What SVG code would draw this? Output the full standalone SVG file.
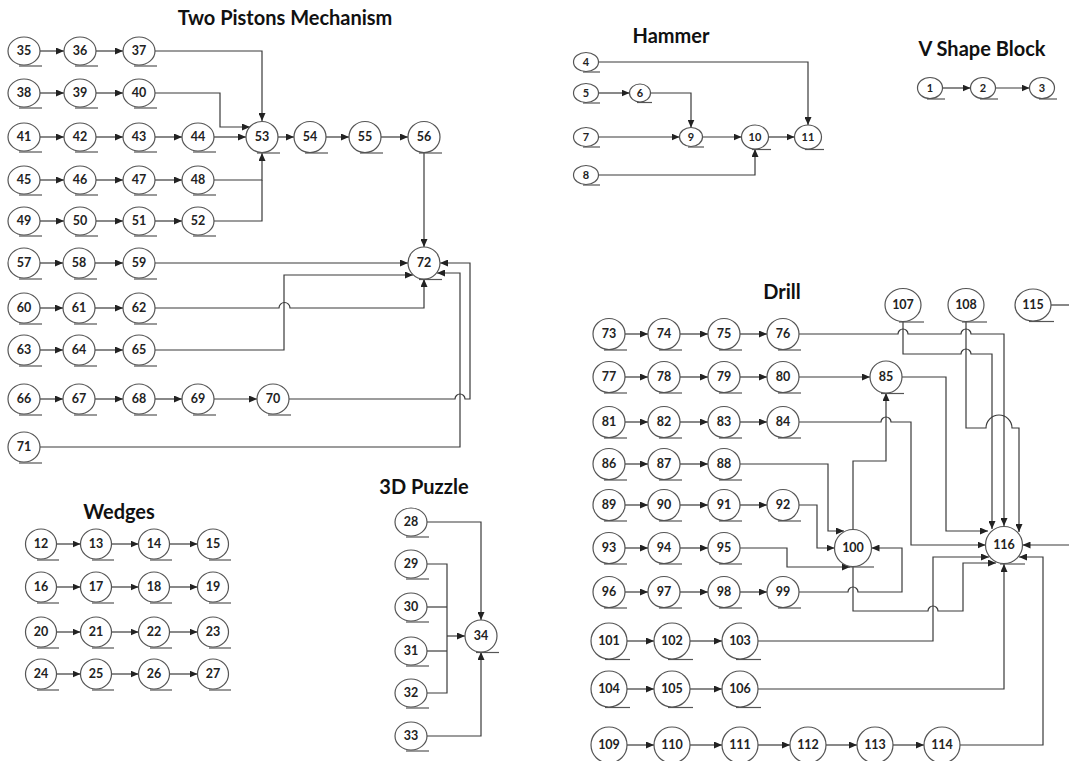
<svg xmlns="http://www.w3.org/2000/svg" width="1069" height="761" viewBox="0 0 1069 761">
<style>
.n ellipse{fill:#fff;stroke:#555;stroke-width:1.2}
.n line{stroke:#555;stroke-width:1.2}
.n text{font-family:Lato,'Liberation Sans',sans-serif;font-weight:bold;font-size:12.5px;text-anchor:middle;fill:#222}
.s text{font-size:11px}
.c path{fill:none;stroke:#3a3a3a;stroke-width:1.2}
.c .a{marker-end:url(#ah)}
.t{font-family:Lato,'Liberation Sans',sans-serif;font-weight:bold;font-size:20px;text-anchor:middle;fill:#111}
</style>
<defs>
<marker id="ah" markerUnits="userSpaceOnUse" markerWidth="8" markerHeight="7" refX="8" refY="3.5" orient="auto"><path d="M0,0 L8,3.5 L0,7 z" fill="#222"/></marker>
</defs>
<rect width="1069" height="761" fill="#fff"/>
<text class="t" x="285" y="25">Two Pistons Mechanism</text>
<text class="t" x="671" y="43">Hammer</text>
<text class="t" x="982" y="56">V Shape Block</text>
<text class="t" x="119" y="519">Wedges</text>
<text class="t" x="424" y="494">3D Puzzle</text>
<text class="t" x="782" y="299">Drill</text>
<g class="c">
<path class="a" d="M40,51H64"/><path class="a" d="M96,51H123"/><path class="a" d="M155,51H262V121"/>
<path class="a" d="M40,93H64"/><path class="a" d="M96,93H123"/><path class="a" d="M155,93H220V127H250"/>
<path class="a" d="M40,137H64"/><path class="a" d="M96,137H123"/><path class="a" d="M155,137H182"/><path class="a" d="M214,137H246"/>
<path class="a" d="M40,180H64"/><path class="a" d="M96,180H123"/><path class="a" d="M155,180H182"/><path class="a" d="M214,180H262V153"/>
<path class="a" d="M40,221H64"/><path class="a" d="M96,221H123"/><path class="a" d="M155,221H182"/><path d="M214,221H262V180"/>
<path class="a" d="M278,137H294"/><path class="a" d="M326,137H349"/><path class="a" d="M381,137H408"/><path class="a" d="M424,152V247"/>
<path class="a" d="M40,263H63"/><path class="a" d="M95,263H123"/><path class="a" d="M155,263H408"/>
<path class="a" d="M40,308H63"/><path class="a" d="M95,308H123"/><path class="a" d="M155,308H279a5.5,5.5 0 0 1 11,0H424V279"/>
<path class="a" d="M40,350H63"/><path class="a" d="M95,350H123"/><path class="a" d="M155,350H284V275H413"/>
<path class="a" d="M40,399H63"/><path class="a" d="M95,399H123"/><path class="a" d="M155,399H182"/><path class="a" d="M214,399H257"/><path class="a" d="M289,399H455a5,5 0 0 1 10,0H470V263H440"/>
<path class="a" d="M40,447H460V273H437"/>
<path class="a" d="M598.5,62H808V125"/>
<path class="a" d="M598.5,93H629.5"/>
<path class="a" d="M650.5,93H691V127.5"/>
<path class="a" d="M598.5,137H679.5"/>
<path class="a" d="M702.5,137H741.5"/>
<path class="a" d="M768.5,137H794.5"/>
<path class="a" d="M598.5,175H755V149"/>
<path class="a" d="M942.5,88H970.5"/><path class="a" d="M995.5,88H1029.5"/>
<path class="a" d="M56.5,544H80.5"/><path class="a" d="M111.5,544H138.5"/><path class="a" d="M169.5,544H197.5"/>
<path class="a" d="M56.5,587H80.5"/><path class="a" d="M111.5,587H138.5"/><path class="a" d="M169.5,587H197.5"/>
<path class="a" d="M56.5,632H80.5"/><path class="a" d="M111.5,632H138.5"/><path class="a" d="M169.5,632H197.5"/>
<path class="a" d="M56.5,674H80.5"/><path class="a" d="M111.5,674H138.5"/><path class="a" d="M169.5,674H197.5"/>
<path class="a" d="M427,522H481V620"/>
<path d="M427,564H447V693H427"/><path d="M427,607H447"/><path d="M427,651H447"/>
<path class="a" d="M447,636H465"/>
<path class="a" d="M427,736H481V652"/>
<path class="a" d="M625,334H648"/><path class="a" d="M680,334H708"/><path class="a" d="M740,334H767"/>
<path class="a" d="M799,334H898a5,5 0 0 1 10,0H961a5,5 0 0 1 10,0H1004V526"/>
<path class="a" d="M903,321.5V354H961a5,5 0 0 1 10,0H992V529"/>
<path class="a" d="M966,321.5V428H986a13,13 0 0 1 26,0H1019V532"/>
<path class="a" d="M625,377H648"/><path class="a" d="M680,377H708"/><path class="a" d="M740,377H767"/><path class="a" d="M799,377H870"/>
<path class="a" d="M902,377H946V531H988"/>
<path class="a" d="M625,422H648"/><path class="a" d="M680,422H708"/><path class="a" d="M740,422H767"/>
<path class="a" d="M799,422H881a5,5 0 0 1 10,0H911V545H985.5"/>
<path d="M1051,305H1080"/>
<path class="a" d="M1080,545H1022.5"/>
<path class="a" d="M625,464H648"/><path class="a" d="M680,464H708"/>
<path class="a" d="M740,464H828V531H844"/>
<path class="a" d="M625,505H648"/><path class="a" d="M680,505H708"/><path class="a" d="M740,505H767"/>
<path class="a" d="M799,505H817V548H834.5"/>
<path class="a" d="M625,548H648"/><path class="a" d="M680,548H708"/>
<path class="a" d="M740,548H787V567H850"/>
<path class="a" d="M625,592H648"/><path class="a" d="M680,592H708"/><path class="a" d="M740,592H767"/>
<path class="a" d="M799,592H848a5,5 0 0 1 10,0H902V548H871.5"/>
<path class="a" d="M853,529.5V461H886V393"/>
<path class="a" d="M853,566.5V611H928a5,5 0 0 1 10,0H963V563H996"/>
<path class="a" d="M627,641H654"/><path class="a" d="M690,641H722"/>
<path class="a" d="M758,641H933V557H989"/>
<path class="a" d="M627,689H654"/><path class="a" d="M690,689H722"/>
<path class="a" d="M758,689H1004V564"/>
<path class="a" d="M627,745H654"/><path class="a" d="M690,745H722"/><path class="a" d="M758,745H790"/><path class="a" d="M826,745H857"/><path class="a" d="M893,745H924"/>
<path class="a" d="M960,745H1043V557H1019"/>
</g>
<g id="n35" class="n"><ellipse cx="24" cy="51" rx="16" ry="14"/><line x1="19" y1="66" x2="42" y2="66"/><text x="24" y="55">35</text></g>
<g id="n36" class="n"><ellipse cx="80" cy="51" rx="16" ry="14"/><line x1="75" y1="66" x2="98" y2="66"/><text x="80" y="55">36</text></g>
<g id="n37" class="n"><ellipse cx="139" cy="51" rx="16" ry="14"/><line x1="134" y1="66" x2="157" y2="66"/><text x="139" y="55">37</text></g>
<g id="n38" class="n"><ellipse cx="24" cy="93" rx="16" ry="14"/><line x1="19" y1="108" x2="42" y2="108"/><text x="24" y="97">38</text></g>
<g id="n39" class="n"><ellipse cx="80" cy="93" rx="16" ry="14"/><line x1="75" y1="108" x2="98" y2="108"/><text x="80" y="97">39</text></g>
<g id="n40" class="n"><ellipse cx="139" cy="93" rx="16" ry="14"/><line x1="134" y1="108" x2="157" y2="108"/><text x="139" y="97">40</text></g>
<g id="n41" class="n"><ellipse cx="24" cy="137" rx="16" ry="14"/><line x1="19" y1="152" x2="42" y2="152"/><text x="24" y="141">41</text></g>
<g id="n42" class="n"><ellipse cx="80" cy="137" rx="16" ry="14"/><line x1="75" y1="152" x2="98" y2="152"/><text x="80" y="141">42</text></g>
<g id="n43" class="n"><ellipse cx="139" cy="137" rx="16" ry="14"/><line x1="134" y1="152" x2="157" y2="152"/><text x="139" y="141">43</text></g>
<g id="n44" class="n"><ellipse cx="198" cy="137" rx="16" ry="14"/><line x1="193" y1="152" x2="216" y2="152"/><text x="198" y="141">44</text></g>
<g id="n45" class="n"><ellipse cx="24" cy="180" rx="16" ry="14"/><line x1="19" y1="195" x2="42" y2="195"/><text x="24" y="184">45</text></g>
<g id="n46" class="n"><ellipse cx="80" cy="180" rx="16" ry="14"/><line x1="75" y1="195" x2="98" y2="195"/><text x="80" y="184">46</text></g>
<g id="n47" class="n"><ellipse cx="139" cy="180" rx="16" ry="14"/><line x1="134" y1="195" x2="157" y2="195"/><text x="139" y="184">47</text></g>
<g id="n48" class="n"><ellipse cx="198" cy="180" rx="16" ry="14"/><line x1="193" y1="195" x2="216" y2="195"/><text x="198" y="184">48</text></g>
<g id="n49" class="n"><ellipse cx="24" cy="221" rx="16" ry="14"/><line x1="19" y1="236" x2="42" y2="236"/><text x="24" y="225">49</text></g>
<g id="n50" class="n"><ellipse cx="80" cy="221" rx="16" ry="14"/><line x1="75" y1="236" x2="98" y2="236"/><text x="80" y="225">50</text></g>
<g id="n51" class="n"><ellipse cx="139" cy="221" rx="16" ry="14"/><line x1="134" y1="236" x2="157" y2="236"/><text x="139" y="225">51</text></g>
<g id="n52" class="n"><ellipse cx="198" cy="221" rx="16" ry="14"/><line x1="193" y1="236" x2="216" y2="236"/><text x="198" y="225">52</text></g>
<g id="n53" class="n"><ellipse cx="262" cy="137" rx="16" ry="15.5"/><line x1="257" y1="153" x2="280" y2="153"/><text x="262" y="141">53</text></g>
<g id="n54" class="n"><ellipse cx="310" cy="137" rx="16" ry="15.5"/><line x1="305" y1="153" x2="328" y2="153"/><text x="310" y="141">54</text></g>
<g id="n55" class="n"><ellipse cx="365" cy="137" rx="16" ry="15.5"/><line x1="360" y1="153" x2="383" y2="153"/><text x="365" y="141">55</text></g>
<g id="n56" class="n"><ellipse cx="424" cy="137" rx="16" ry="15.5"/><line x1="419" y1="153" x2="442" y2="153"/><text x="424" y="141">56</text></g>
<g id="n72" class="n"><ellipse cx="424" cy="263" rx="16" ry="16"/><line x1="419" y1="279.5" x2="442" y2="279.5"/><text x="424" y="267">72</text></g>
<g id="n57" class="n"><ellipse cx="24" cy="263" rx="16" ry="15"/><line x1="19" y1="279" x2="42" y2="279"/><text x="24" y="267">57</text></g>
<g id="n58" class="n"><ellipse cx="79" cy="263" rx="16" ry="15"/><line x1="74" y1="279" x2="97" y2="279"/><text x="79" y="267">58</text></g>
<g id="n59" class="n"><ellipse cx="139" cy="263" rx="16" ry="15"/><line x1="134" y1="279" x2="157" y2="279"/><text x="139" y="267">59</text></g>
<g id="n60" class="n"><ellipse cx="24" cy="308" rx="16" ry="15"/><line x1="19" y1="324" x2="42" y2="324"/><text x="24" y="312">60</text></g>
<g id="n61" class="n"><ellipse cx="79" cy="308" rx="16" ry="15"/><line x1="74" y1="324" x2="97" y2="324"/><text x="79" y="312">61</text></g>
<g id="n62" class="n"><ellipse cx="139" cy="308" rx="16" ry="15"/><line x1="134" y1="324" x2="157" y2="324"/><text x="139" y="312">62</text></g>
<g id="n63" class="n"><ellipse cx="24" cy="350" rx="16" ry="15"/><line x1="19" y1="366" x2="42" y2="366"/><text x="24" y="354">63</text></g>
<g id="n64" class="n"><ellipse cx="79" cy="350" rx="16" ry="15"/><line x1="74" y1="366" x2="97" y2="366"/><text x="79" y="354">64</text></g>
<g id="n65" class="n"><ellipse cx="139" cy="350" rx="16" ry="15"/><line x1="134" y1="366" x2="157" y2="366"/><text x="139" y="354">65</text></g>
<g id="n66" class="n"><ellipse cx="24" cy="399" rx="16" ry="15"/><line x1="19" y1="415" x2="42" y2="415"/><text x="24" y="403">66</text></g>
<g id="n67" class="n"><ellipse cx="79" cy="399" rx="16" ry="15"/><line x1="74" y1="415" x2="97" y2="415"/><text x="79" y="403">67</text></g>
<g id="n68" class="n"><ellipse cx="139" cy="399" rx="16" ry="15"/><line x1="134" y1="415" x2="157" y2="415"/><text x="139" y="403">68</text></g>
<g id="n69" class="n"><ellipse cx="198" cy="399" rx="16" ry="15"/><line x1="193" y1="415" x2="216" y2="415"/><text x="198" y="403">69</text></g>
<g id="n70" class="n"><ellipse cx="273" cy="399" rx="16" ry="15"/><line x1="268" y1="415" x2="291" y2="415"/><text x="273" y="403">70</text></g>
<g id="n71" class="n"><ellipse cx="24" cy="447" rx="16" ry="15"/><line x1="19" y1="463" x2="42" y2="463"/><text x="24" y="451">71</text></g>
<g id="n4" class="n s"><ellipse cx="586" cy="62" rx="12.5" ry="9.5"/><line x1="583" y1="72" x2="600" y2="72"/><text x="586" y="66">4</text></g>
<g id="n5" class="n s"><ellipse cx="586" cy="93" rx="12.5" ry="9.5"/><line x1="583" y1="103" x2="600" y2="103"/><text x="586" y="97">5</text></g>
<g id="n6" class="n s"><ellipse cx="640" cy="93" rx="10.5" ry="9"/><line x1="637" y1="102.5" x2="652" y2="102.5"/><text x="640" y="97">6</text></g>
<g id="n7" class="n s"><ellipse cx="586" cy="137" rx="12.5" ry="9.5"/><line x1="583" y1="147" x2="600" y2="147"/><text x="586" y="141">7</text></g>
<g id="n8" class="n s"><ellipse cx="586" cy="175" rx="12.5" ry="9.5"/><line x1="583" y1="185" x2="600" y2="185"/><text x="586" y="179">8</text></g>
<g id="n9" class="n s"><ellipse cx="691" cy="137" rx="11.5" ry="9.5"/><line x1="688" y1="147" x2="704" y2="147"/><text x="691" y="141">9</text></g>
<g id="n10" class="n s"><ellipse cx="755" cy="137" rx="13.5" ry="12"/><line x1="752" y1="149.5" x2="771" y2="149.5"/><text x="755" y="141">10</text></g>
<g id="n11" class="n s"><ellipse cx="808" cy="137" rx="13.5" ry="12"/><line x1="805" y1="149.5" x2="824" y2="149.5"/><text x="808" y="141">11</text></g>
<g id="n1" class="n s"><ellipse cx="930" cy="88" rx="12.5" ry="10.5"/><line x1="927" y1="99" x2="945" y2="99"/><text x="930" y="92">1</text></g>
<g id="n2" class="n s"><ellipse cx="983" cy="88" rx="12.5" ry="10.5"/><line x1="980" y1="99" x2="998" y2="99"/><text x="983" y="92">2</text></g>
<g id="n3" class="n s"><ellipse cx="1042" cy="88" rx="12.5" ry="10.5"/><line x1="1039" y1="99" x2="1057" y2="99"/><text x="1042" y="92">3</text></g>
<g id="n12" class="n"><ellipse cx="41" cy="544" rx="15.5" ry="15"/><line x1="37" y1="560" x2="59" y2="560"/><text x="41" y="548">12</text></g>
<g id="n13" class="n"><ellipse cx="96" cy="544" rx="15.5" ry="15"/><line x1="92" y1="560" x2="114" y2="560"/><text x="96" y="548">13</text></g>
<g id="n14" class="n"><ellipse cx="154" cy="544" rx="15.5" ry="15"/><line x1="150" y1="560" x2="172" y2="560"/><text x="154" y="548">14</text></g>
<g id="n15" class="n"><ellipse cx="213" cy="544" rx="15.5" ry="15"/><line x1="209" y1="560" x2="231" y2="560"/><text x="213" y="548">15</text></g>
<g id="n16" class="n"><ellipse cx="41" cy="587" rx="15.5" ry="15"/><line x1="37" y1="603" x2="59" y2="603"/><text x="41" y="591">16</text></g>
<g id="n17" class="n"><ellipse cx="96" cy="587" rx="15.5" ry="15"/><line x1="92" y1="603" x2="114" y2="603"/><text x="96" y="591">17</text></g>
<g id="n18" class="n"><ellipse cx="154" cy="587" rx="15.5" ry="15"/><line x1="150" y1="603" x2="172" y2="603"/><text x="154" y="591">18</text></g>
<g id="n19" class="n"><ellipse cx="213" cy="587" rx="15.5" ry="15"/><line x1="209" y1="603" x2="231" y2="603"/><text x="213" y="591">19</text></g>
<g id="n20" class="n"><ellipse cx="41" cy="632" rx="15.5" ry="15"/><line x1="37" y1="648" x2="59" y2="648"/><text x="41" y="636">20</text></g>
<g id="n21" class="n"><ellipse cx="96" cy="632" rx="15.5" ry="15"/><line x1="92" y1="648" x2="114" y2="648"/><text x="96" y="636">21</text></g>
<g id="n22" class="n"><ellipse cx="154" cy="632" rx="15.5" ry="15"/><line x1="150" y1="648" x2="172" y2="648"/><text x="154" y="636">22</text></g>
<g id="n23" class="n"><ellipse cx="213" cy="632" rx="15.5" ry="15"/><line x1="209" y1="648" x2="231" y2="648"/><text x="213" y="636">23</text></g>
<g id="n24" class="n"><ellipse cx="41" cy="674" rx="15.5" ry="15"/><line x1="37" y1="690" x2="59" y2="690"/><text x="41" y="678">24</text></g>
<g id="n25" class="n"><ellipse cx="96" cy="674" rx="15.5" ry="15"/><line x1="92" y1="690" x2="114" y2="690"/><text x="96" y="678">25</text></g>
<g id="n26" class="n"><ellipse cx="154" cy="674" rx="15.5" ry="15"/><line x1="150" y1="690" x2="172" y2="690"/><text x="154" y="678">26</text></g>
<g id="n27" class="n"><ellipse cx="213" cy="674" rx="15.5" ry="15"/><line x1="209" y1="690" x2="231" y2="690"/><text x="213" y="678">27</text></g>
<g id="n28" class="n"><ellipse cx="411" cy="522" rx="16" ry="14"/><line x1="406" y1="537" x2="429" y2="537"/><text x="411" y="526">28</text></g>
<g id="n29" class="n"><ellipse cx="411" cy="564" rx="16" ry="14"/><line x1="406" y1="579" x2="429" y2="579"/><text x="411" y="568">29</text></g>
<g id="n30" class="n"><ellipse cx="411" cy="607" rx="16" ry="14"/><line x1="406" y1="622" x2="429" y2="622"/><text x="411" y="611">30</text></g>
<g id="n31" class="n"><ellipse cx="411" cy="651" rx="16" ry="14"/><line x1="406" y1="666" x2="429" y2="666"/><text x="411" y="655">31</text></g>
<g id="n32" class="n"><ellipse cx="411" cy="693" rx="16" ry="14"/><line x1="406" y1="708" x2="429" y2="708"/><text x="411" y="697">32</text></g>
<g id="n33" class="n"><ellipse cx="411" cy="736" rx="16" ry="14"/><line x1="406" y1="751" x2="429" y2="751"/><text x="411" y="740">33</text></g>
<g id="n34" class="n"><ellipse cx="481" cy="636" rx="16" ry="16"/><line x1="476" y1="652.5" x2="499" y2="652.5"/><text x="481" y="640">34</text></g>
<g id="n73" class="n"><ellipse cx="609" cy="334" rx="16" ry="15.5"/><line x1="604" y1="350" x2="627" y2="350"/><text x="609" y="338">73</text></g>
<g id="n74" class="n"><ellipse cx="664" cy="334" rx="16" ry="15.5"/><line x1="659" y1="350" x2="682" y2="350"/><text x="664" y="338">74</text></g>
<g id="n75" class="n"><ellipse cx="724" cy="334" rx="16" ry="15.5"/><line x1="719" y1="350" x2="742" y2="350"/><text x="724" y="338">75</text></g>
<g id="n76" class="n"><ellipse cx="783" cy="334" rx="16" ry="15.5"/><line x1="778" y1="350" x2="801" y2="350"/><text x="783" y="338">76</text></g>
<g id="n77" class="n"><ellipse cx="609" cy="377" rx="16" ry="15.5"/><line x1="604" y1="393" x2="627" y2="393"/><text x="609" y="381">77</text></g>
<g id="n78" class="n"><ellipse cx="664" cy="377" rx="16" ry="15.5"/><line x1="659" y1="393" x2="682" y2="393"/><text x="664" y="381">78</text></g>
<g id="n79" class="n"><ellipse cx="724" cy="377" rx="16" ry="15.5"/><line x1="719" y1="393" x2="742" y2="393"/><text x="724" y="381">79</text></g>
<g id="n80" class="n"><ellipse cx="783" cy="377" rx="16" ry="15.5"/><line x1="778" y1="393" x2="801" y2="393"/><text x="783" y="381">80</text></g>
<g id="n85" class="n"><ellipse cx="886" cy="377" rx="16" ry="16"/><line x1="881" y1="393.5" x2="904" y2="393.5"/><text x="886" y="381">85</text></g>
<g id="n81" class="n"><ellipse cx="609" cy="422" rx="16" ry="15.5"/><line x1="604" y1="438" x2="627" y2="438"/><text x="609" y="426">81</text></g>
<g id="n82" class="n"><ellipse cx="664" cy="422" rx="16" ry="15.5"/><line x1="659" y1="438" x2="682" y2="438"/><text x="664" y="426">82</text></g>
<g id="n83" class="n"><ellipse cx="724" cy="422" rx="16" ry="15.5"/><line x1="719" y1="438" x2="742" y2="438"/><text x="724" y="426">83</text></g>
<g id="n84" class="n"><ellipse cx="783" cy="422" rx="16" ry="15.5"/><line x1="778" y1="438" x2="801" y2="438"/><text x="783" y="426">84</text></g>
<g id="n107" class="n"><ellipse cx="903" cy="305" rx="18" ry="16.5"/><line x1="899" y1="322" x2="924" y2="322"/><text x="903" y="309">107</text></g>
<g id="n108" class="n"><ellipse cx="966" cy="305" rx="18" ry="16.5"/><line x1="962" y1="322" x2="987" y2="322"/><text x="966" y="309">108</text></g>
<g id="n115" class="n"><ellipse cx="1033" cy="305" rx="18" ry="16"/><line x1="1029" y1="321.5" x2="1054" y2="321.5"/><text x="1033" y="309">115</text></g>
<g id="n86" class="n"><ellipse cx="609" cy="464" rx="16" ry="15.5"/><line x1="604" y1="480" x2="627" y2="480"/><text x="609" y="468">86</text></g>
<g id="n87" class="n"><ellipse cx="664" cy="464" rx="16" ry="15.5"/><line x1="659" y1="480" x2="682" y2="480"/><text x="664" y="468">87</text></g>
<g id="n88" class="n"><ellipse cx="724" cy="464" rx="16" ry="15.5"/><line x1="719" y1="480" x2="742" y2="480"/><text x="724" y="468">88</text></g>
<g id="n89" class="n"><ellipse cx="609" cy="505" rx="16" ry="15.5"/><line x1="604" y1="521" x2="627" y2="521"/><text x="609" y="509">89</text></g>
<g id="n90" class="n"><ellipse cx="664" cy="505" rx="16" ry="15.5"/><line x1="659" y1="521" x2="682" y2="521"/><text x="664" y="509">90</text></g>
<g id="n91" class="n"><ellipse cx="724" cy="505" rx="16" ry="15.5"/><line x1="719" y1="521" x2="742" y2="521"/><text x="724" y="509">91</text></g>
<g id="n92" class="n"><ellipse cx="783" cy="505" rx="16" ry="15.5"/><line x1="778" y1="521" x2="801" y2="521"/><text x="783" y="509">92</text></g>
<g id="n93" class="n"><ellipse cx="609" cy="548" rx="16" ry="15.5"/><line x1="604" y1="564" x2="627" y2="564"/><text x="609" y="552">93</text></g>
<g id="n94" class="n"><ellipse cx="664" cy="548" rx="16" ry="15.5"/><line x1="659" y1="564" x2="682" y2="564"/><text x="664" y="552">94</text></g>
<g id="n95" class="n"><ellipse cx="724" cy="548" rx="16" ry="15.5"/><line x1="719" y1="564" x2="742" y2="564"/><text x="724" y="552">95</text></g>
<g id="n96" class="n"><ellipse cx="609" cy="592" rx="16" ry="15.5"/><line x1="604" y1="608" x2="627" y2="608"/><text x="609" y="596">96</text></g>
<g id="n97" class="n"><ellipse cx="664" cy="592" rx="16" ry="15.5"/><line x1="659" y1="608" x2="682" y2="608"/><text x="664" y="596">97</text></g>
<g id="n98" class="n"><ellipse cx="724" cy="592" rx="16" ry="15.5"/><line x1="719" y1="608" x2="742" y2="608"/><text x="724" y="596">98</text></g>
<g id="n99" class="n"><ellipse cx="783" cy="592" rx="16" ry="15.5"/><line x1="778" y1="608" x2="801" y2="608"/><text x="783" y="596">99</text></g>
<g id="n100" class="n"><ellipse cx="853" cy="548" rx="18.5" ry="18.5"/><line x1="849" y1="567" x2="874" y2="567"/><text x="853" y="552">100</text></g>
<g id="n116" class="n"><ellipse cx="1004" cy="545" rx="18.5" ry="18.5"/><line x1="1000" y1="564" x2="1025" y2="564"/><text x="1004" y="549">116</text></g>
<g id="n101" class="n"><ellipse cx="609" cy="641" rx="18" ry="18"/><line x1="605" y1="659.5" x2="630" y2="659.5"/><text x="609" y="645">101</text></g>
<g id="n102" class="n"><ellipse cx="672" cy="641" rx="18" ry="18"/><line x1="668" y1="659.5" x2="693" y2="659.5"/><text x="672" y="645">102</text></g>
<g id="n103" class="n"><ellipse cx="740" cy="641" rx="18" ry="18"/><line x1="736" y1="659.5" x2="761" y2="659.5"/><text x="740" y="645">103</text></g>
<g id="n104" class="n"><ellipse cx="609" cy="689" rx="18" ry="18"/><line x1="605" y1="707.5" x2="630" y2="707.5"/><text x="609" y="693">104</text></g>
<g id="n105" class="n"><ellipse cx="672" cy="689" rx="18" ry="18"/><line x1="668" y1="707.5" x2="693" y2="707.5"/><text x="672" y="693">105</text></g>
<g id="n106" class="n"><ellipse cx="740" cy="689" rx="18" ry="18"/><line x1="736" y1="707.5" x2="761" y2="707.5"/><text x="740" y="693">106</text></g>
<g id="n109" class="n"><ellipse cx="609" cy="745" rx="18" ry="18"/><line x1="605" y1="763.5" x2="630" y2="763.5"/><text x="609" y="749">109</text></g>
<g id="n110" class="n"><ellipse cx="672" cy="745" rx="18" ry="18"/><line x1="668" y1="763.5" x2="693" y2="763.5"/><text x="672" y="749">110</text></g>
<g id="n111" class="n"><ellipse cx="740" cy="745" rx="18" ry="18"/><line x1="736" y1="763.5" x2="761" y2="763.5"/><text x="740" y="749">111</text></g>
<g id="n112" class="n"><ellipse cx="808" cy="745" rx="18" ry="18"/><line x1="804" y1="763.5" x2="829" y2="763.5"/><text x="808" y="749">112</text></g>
<g id="n113" class="n"><ellipse cx="875" cy="745" rx="18" ry="18"/><line x1="871" y1="763.5" x2="896" y2="763.5"/><text x="875" y="749">113</text></g>
<g id="n114" class="n"><ellipse cx="942" cy="745" rx="18" ry="18"/><line x1="938" y1="763.5" x2="963" y2="763.5"/><text x="942" y="749">114</text></g>
</svg>
